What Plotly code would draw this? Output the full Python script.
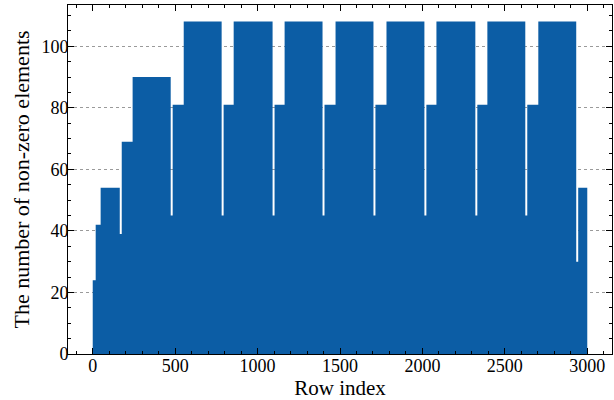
import plotly.graph_objects as go

# Row-index segments (start row of each run of equal non-zero counts)
seg_start = [0, 18, 48, 164, 176, 242, 473, 485, 552, 782, 794, 855, 1091, 1103, 1164,
             1394, 1406, 1473, 1703, 1715, 1782, 2012, 2024, 2085, 2321, 2333, 2394,
             2624, 2636, 2703, 2933, 2945]
n_rows = 3000
nnz = [24, 42, 54, 39, 69, 90, 45, 81, 108, 45, 81, 108, 45, 81, 108,
       45, 81, 108, 45, 81, 108, 45, 81, 108, 45, 81, 108,
       45, 81, 108, 30, 54]

x_ticks = [0, 500, 1000, 1500, 2000, 2500, 3000]
y_ticks = [0, 20, 40, 60, 80, 100]

# step outline: each run spans [start, next start)
step_x = seg_start + [n_rows]
step_y = nnz + [nnz[-1]]

COLOR = "#0C5DA5"
FONT = "Liberation Serif, Times New Roman, serif"

fig = go.Figure(go.Scatter(
    x=step_x, y=step_y, mode="lines", line_shape="hv",
    line=dict(width=0, color=COLOR),
    fill="tozeroy", fillcolor=COLOR,
    hoverinfo="skip",
))

axis_common = dict(
    showline=True, linecolor="black", linewidth=1, mirror="ticks",
    ticks="inside", ticklen=6, tickwidth=1, tickcolor="black",
    zeroline=False,
    tickfont=dict(family=FONT, size=18, color="black"),
)

fig.update_xaxes(
    **axis_common,
    range=[-150, 3150],
    tickvals=x_ticks, ticktext=[str(v) for v in x_ticks],
    showgrid=False,
    ticklabelstandoff=-5,
    minor=dict(ticks="inside", dtick=100, tick0=0, ticklen=3, tickwidth=0.8, tickcolor="black", showgrid=False),
    title=dict(text="Row index", font=dict(family=FONT, size=21, color="black"), standoff=3),
)
fig.update_yaxes(
    **axis_common,
    range=[0, 113.4],
    tickvals=y_ticks, ticktext=[str(v) for v in y_ticks],
    showgrid=True, gridcolor="#9a9a9a", gridwidth=0.8, griddash="dot",
    ticklabelstandoff=-5,
    minor=dict(ticks="inside", dtick=5, tick0=0, ticklen=3, tickwidth=0.8, tickcolor="black", showgrid=False),
    title=dict(text="The number of non-zero elements", font=dict(family=FONT, size=22, color="black"), standoff=5),
)

fig.update_layout(
    width=614, height=400,
    margin=dict(l=68, r=2, t=5, b=46),
    paper_bgcolor="white", plot_bgcolor="white",
    showlegend=False,
)

fig.write_html("out.html", config={"displayModeBar": False},
               post_script="document.body.style.margin='0';")
